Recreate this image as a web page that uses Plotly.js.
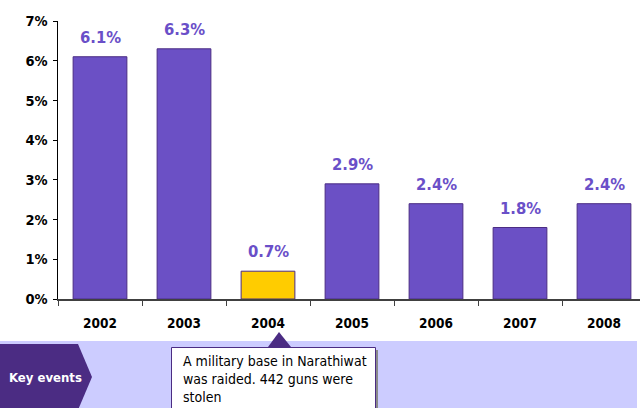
<!DOCTYPE html>
<html>
<head>
<meta charset="utf-8">
<script src="https://cdn.plot.ly/plotly-3.0.1.min.js"></script>
<style>html,body{margin:0;padding:0;background:#fff;}#chart{width:640px;height:408px;}</style>
</head>
<body>
<div id="chart"></div>
<script>
var years = ["2002", "2003", "2004", "2005", "2006", "2007", "2008"];
var values = [6.1, 6.3, 0.7, 2.9, 2.4, 1.8, 2.4];
var valueLabels = ["6.1%", "6.3%", "0.7%", "2.9%", "2.4%", "1.8%", "2.4%"];
var highlightYear = "2004";
var yTicks = [0, 1, 2, 3, 4, 5, 6, 7];
var yTickLabels = ["0%", "1%", "2%", "3%", "4%", "5%", "6%", "7%"];
var bandTitle = "Key events";
var eventText = "A military base in Narathiwat<br>was raided. 442 guns were<br>stolen";

var FONT = "'DejaVu Sans Condensed', 'DejaVu Sans', Verdana, sans-serif";
var PURPLE = "#6b50c5";
var DARK = "#4b2c83";

// pixel -> paper helpers (plot area: x 58..640, y 21..299)
var L = 58, R = 640, T = 21, B = 299;
function px(x) { return (x - L) / (R - L); }
function py(y) { return (B - y) / (B - T); }

var colors = years.map(function (y) { return y === highlightYear ? "#ffcc00" : PURPLE; });

var trace = {
  type: "bar",
  x: years,
  y: values,
  width: 0.64,
  marker: { color: colors, line: { color: DARK, width: 1 } },
  hoverinfo: "none"
};

var annotations = years.map(function (yr, i) {
  return {
    x: i, y: values[i], xref: "x", yref: "y",
    text: "<b>" + valueLabels[i] + "</b>", showarrow: false,
    yanchor: "bottom", yshift: 8,
    font: { family: FONT, size: 16.5, color: "#6a4fc8" }
  };
});
annotations.push({
  xref: "paper", yref: "paper", x: px(7), y: py(377),
  xanchor: "left", yanchor: "middle", showarrow: false,
  text: "<b>" + bandTitle + "</b>",
  font: { family: FONT, size: 13, color: "#ffffff" }
});
annotations.push({
  xref: "paper", yref: "paper", x: px(181), y: py(351),
  xanchor: "left", yanchor: "top", align: "left", showarrow: false,
  text: eventText,
  font: { family: FONT, size: 14, color: "#000000" }
});

function path(pts) {
  return "M" + pts.map(function (p) { return px(p[0]) + "," + py(p[1]); }).join(" L") + " Z";
}

var shapes = [
  { type: "rect", xref: "paper", yref: "paper", x0: px(0), x1: px(637), y0: py(341), y1: py(410),
    fillcolor: "#ccccff", line: { width: 0 }, layer: "below" },
  { type: "path", xref: "paper", yref: "paper",
    path: path([[0, 344], [78, 344], [92, 377], [78, 410], [0, 410]]),
    fillcolor: DARK, line: { width: 0 } },
  { type: "rect", xref: "paper", yref: "paper", x0: px(174), x1: px(378), y0: py(350), y1: py(420),
    fillcolor: "#8a8a8a", line: { width: 0 } },
  { type: "rect", xref: "paper", yref: "paper", x0: px(171.5), x1: px(375.5), y0: py(347.5), y1: py(420),
    fillcolor: "#ffffff", line: { color: DARK, width: 1 } },
  { type: "path", xref: "paper", yref: "paper",
    path: path([[268, 347], [279, 332], [291, 347]]),
    fillcolor: DARK, line: { width: 0 } }
];

var layout = {
  width: 640, height: 408,
  margin: { l: L, r: 640 - R, t: T, b: 408 - B, pad: 0 },
  paper_bgcolor: "#ffffff", plot_bgcolor: "#ffffff",
  showlegend: false,
  bargap: 0.36,
  xaxis: {
    type: "category",
    range: [-0.5, -0.5 + (R - L) / 84],
    showgrid: false, zeroline: false,
    showline: true, linecolor: "#404040", linewidth: 1.5,
    ticks: "outside", ticklen: 5, tickcolor: "#404040", tickson: "boundaries",
    ticklabelstandoff: 11,
    tickfont: { family: FONT, size: 13.5, color: "#000000", weight: "bold" },
    fixedrange: true
  },
  yaxis: {
    range: [0, 7],
    tickvals: yTicks, ticktext: yTickLabels.map(function (t) { return "<b>" + t + "</b>"; }),
    showgrid: false, zeroline: false,
    showline: true, linecolor: "#000000", linewidth: 1.5,
    ticks: "outside", ticklen: 4, tickcolor: "#000000",
    ticklabelstandoff: 2,
    tickfont: { family: FONT, size: 14.5, color: "#000000" },
    fixedrange: true
  },
  annotations: annotations,
  shapes: shapes,
  font: { family: FONT }
};

Plotly.newPlot("chart", [trace], layout, { staticPlot: true, displayModeBar: false });
</script>
</body>
</html>
